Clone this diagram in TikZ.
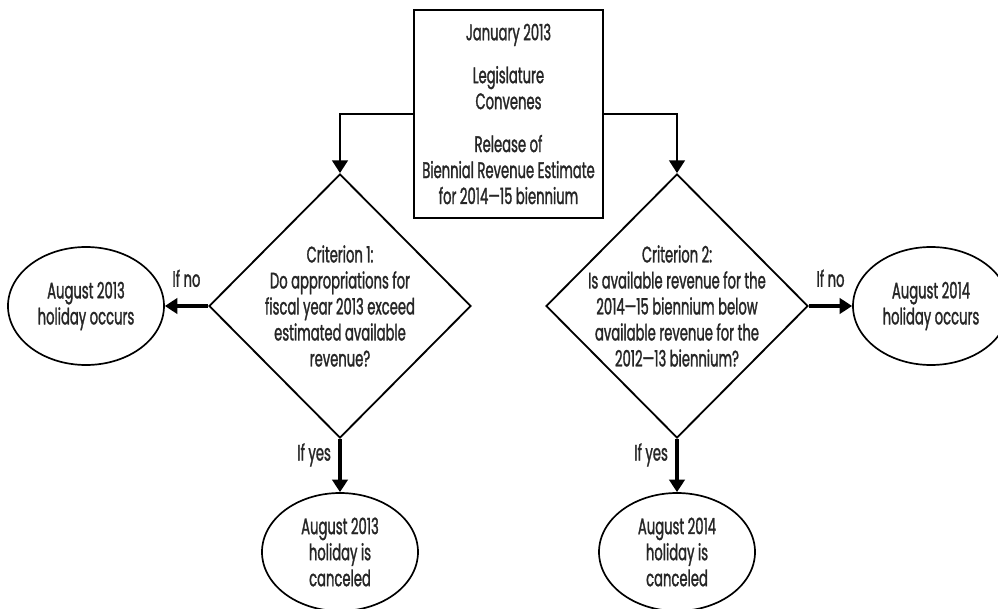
\documentclass[tikz,border=0pt]{standalone}
\usepackage{fontspec}
\setmainfont{Poppins}[FakeStretch=0.585, FakeBold=1.3]
\usetikzlibrary{positioning,shapes.geometric,arrows.meta}

\begin{document}
\begin{tikzpicture}[node distance=2cm, on grid, auto,
		every node/.style={text=black!85, font=\fontsize{16}{18.5}\selectfont},
		event/.style={draw, line width=1.4pt, minimum width=4.725cm, minimum height=5.2cm, align=center},
		test/.style={draw, diamond, line width=1.3pt, minimum width=6.55cm, minimum height=6.6cm, inner sep=0pt},
		outcome/.style={draw, ellipse, line width=1.2pt, minimum width=3.9cm, minimum height=2.95cm, align=center},
		link/.style={line width=1.9pt, -{Triangle[length=9pt,width=11pt]}},
		flow/.style={line width=2.3pt, -{Triangle[length=9pt,width=11pt]}}]
		
		\useasboundingbox (-12.7125,2.85) rectangle (12.2375,-12.375);
		\clip (-12.7125,2.85) rectangle (12.2375,-12.375);
		
		% --- Start ---
		\node[event] (rel) {January 2013\\[12pt]Legislature\\Convenes\\[12pt]Release of\\Biennial Revenue Estimate\\for 2014—15 biennium};
		
		% --- Criteria ---
		\node[test] (crit1) [below left=4.8cm and 4.2125cm of rel] {};
		\node[test] (crit2) [below right=4.8cm and 4.2125cm of rel] {};
		\node[align=center] (crit1txt) at (crit1) {Criterion 1:\\Do appropriations for\\fiscal year 2013 exceed\\estimated available\\revenue?};
		\node[align=center] (crit2txt) at (crit2) {Criterion 2:\\Is available revenue for the\\2014—15 biennium below\\available revenue for the\\2012—13 biennium?};
		
		% --- Outcomes ---
		\node[outcome] (hol13) [left=6.35cm of crit1] {August 2013\\holiday occurs};
		\node[outcome] (hol14) [right=6.35cm of crit2] {August 2014\\holiday occurs};
		\node[outcome] (cancel13) [below=6.15cm of crit1] {August 2013\\holiday is\\canceled};
		\node[outcome] (cancel14) [below=6.15cm of crit2] {August 2014\\holiday is\\canceled};
		
		% --- Transitions ---
		\draw[link] (rel.west) -| (crit1.north);
		\draw[link] (rel.east) -| (crit2.north);
		
		\path[flow]
		(crit1.west) edge node[above=9pt] {If no} (hol13)
		(crit1.south) edge node[left=2pt, pos=0.3] {If yes} (cancel13)
		
		(crit2.east) edge node[above=9pt] {If no} (hol14)
		(crit2.south) edge node[left=2pt, pos=0.3] {If yes} (cancel14);
	\end{tikzpicture}
\end{document}
